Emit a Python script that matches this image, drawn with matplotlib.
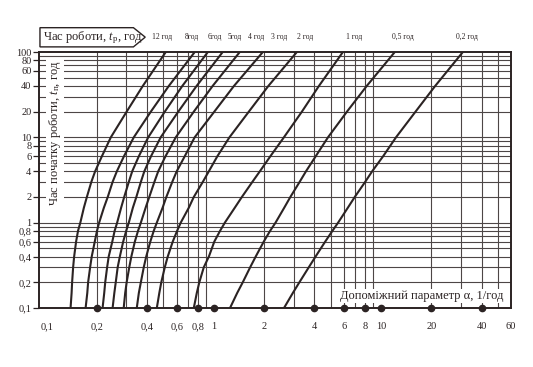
import matplotlib.pyplot as plt
from matplotlib.ticker import FixedLocator, NullLocator
from matplotlib.patches import Polygon
from matplotlib.transforms import blended_transform_factory

plt.rcParams['font.family'] = ['Liberation Serif', 'DejaVu Serif']
plt.rcParams['mathtext.fontset'] = 'custom'
plt.rcParams['mathtext.rm'] = 'Liberation Serif'
plt.rcParams['mathtext.it'] = 'Liberation Serif:italic'

# час початку роботи t_п (год) - спільна шкала для всіх кривих
t_start = [0.1, 0.15, 0.2, 0.3, 0.4, 0.6, 0.8, 1, 1.5, 2, 3, 4, 6, 10, 20, 40, 100]

# допоміжний параметр alpha (1/год) для кожного часу роботи t_p
alpha_12 = [0.139, 0.141, 0.142, 0.144, 0.146, 0.150, 0.154, 0.159, 0.167, 0.174,
            0.185, 0.195, 0.214, 0.242, 0.301, 0.376, 0.516]
alpha_8 = [0.171, 0.175, 0.177, 0.182, 0.186, 0.194, 0.200, 0.206, 0.220, 0.232,
           0.248, 0.263, 0.290, 0.332, 0.420, 0.538, 0.769]
alpha_6 = [0.216, 0.221, 0.224, 0.230, 0.235, 0.247, 0.255, 0.264, 0.279, 0.291,
           0.310, 0.325, 0.356, 0.405, 0.509, 0.648, 0.921]
alpha_5 = [0.248, 0.254, 0.259, 0.266, 0.274, 0.287, 0.299, 0.310, 0.328, 0.344,
           0.366, 0.384, 0.421, 0.481, 0.613, 0.789, 1.13]
alpha_4 = [0.289, 0.295, 0.301, 0.312, 0.321, 0.337, 0.352, 0.366, 0.391, 0.411,
           0.441, 0.465, 0.514, 0.592, 0.759, 0.984, 1.43]
alpha_3 = [0.346, 0.356, 0.366, 0.381, 0.394, 0.417, 0.437, 0.456, 0.494, 0.520,
           0.564, 0.600, 0.670, 0.768, 1.007, 1.32, 1.965]
alpha_2 = [0.456, 0.472, 0.485, 0.509, 0.530, 0.568, 0.603, 0.634, 0.709, 0.759,
           0.859, 0.934, 1.05, 1.24, 1.62, 2.12, 3.14]
alpha_1 = [0.759, 0.791, 0.819, 0.871, 0.934, 1.007, 1.089, 1.164, 1.336, 1.472,
           1.700, 1.886, 2.179, 2.626, 3.365, 4.254, 5.92]
alpha_05 = [1.25, 1.38, 1.49, 1.65, 1.78, 1.99, 2.17, 2.34, 2.64, 2.87,
            3.26, 3.56, 4.07, 4.82, 6.26, 8.22, 12.1]
alpha_02 = [2.63, 2.97, 3.25, 3.70, 4.06, 4.64, 5.12, 5.54, 6.34, 6.97,
            8.04, 8.86, 10.3, 12.3, 16.1, 21.1, 30.9]

curves = [alpha_12, alpha_8, alpha_6, alpha_5, alpha_4,
          alpha_3, alpha_2, alpha_1, alpha_05, alpha_02]
work_labels = ['12 год', '8год', '6год', '5год', '4 год',
               '3 год', '2 год', '1 год', '0,5 год', '0,2 год']
label_x = [0.488, 0.738, 1.014, 1.33, 1.78, 2.45, 3.51, 6.89, 13.5, 32.7]

x_ticks = [0.1, 0.2, 0.4, 0.6, 0.8, 1, 2, 4, 6, 8, 10, 20, 40, 60]
x_tick_labels = ['0,1', '0,2', '0,4', '0,6', '0,8', '1', '2', '4', '6', '8',
                 '10', '20', '40', '60']
y_ticks = [0.1, 0.2, 0.4, 0.6, 0.8, 1, 2, 4, 6, 8, 10, 20, 40, 60, 80, 100]
y_tick_labels = ['0,1', '0,2', '0,4', '0,6', '0,8', '1', '2', '4', '6', '8',
                 '10', '20', '40', '60', '80', '100']
x_grid = [m * 10.0 ** e for e in (-1, 0, 1) for m in range(2, 10) if m * 10.0 ** e < 60]
y_grid = [m * 10.0 ** e for e in (-1, 0, 1) for m in range(2, 10)] + [1, 10]

ink = '#2b2323'
grid_ink = '#4d4646'

fig = plt.figure(figsize=(5.33, 3.67), dpi=100)
ax = fig.add_axes([0.0732, 0.1608, 0.8856, 0.6975])
ax.set_xscale('log')
ax.set_yscale('log')
ax.set_xlim(0.09, 60)
ax.set_ylim(0.1, 100)

for g in x_grid:
    ax.axvline(g, color=grid_ink, linewidth=0.8, zorder=1)
for g in y_grid:
    ax.axhline(g, color=grid_ink, linewidth=0.8, zorder=1)

ax.xaxis.set_major_locator(FixedLocator(x_ticks))
ax.xaxis.set_minor_locator(NullLocator())
ax.yaxis.set_major_locator(FixedLocator(y_ticks))
ax.yaxis.set_minor_locator(NullLocator())
ax.set_xticklabels(x_tick_labels)
ax.set_yticklabels(y_tick_labels)
ax.tick_params(axis='x', length=0, labelsize=7.5, pad=10, colors=ink)
ax.tick_params(axis='y', length=4, width=0.9, labelsize=7.5, pad=1.5, colors=ink)
for s in ax.spines.values():
    s.set_color(ink)
    s.set_linewidth(1.4)

for a in curves:
    ax.plot(a, t_start, color=ink, linewidth=1.5, solid_capstyle='round',
            solid_joinstyle='round', zorder=3)

# точки на осі абсцис
ax.plot(x_ticks[1:-1], [0.1] * (len(x_ticks) - 2), 'o', color=ink,
        markersize=4.5, clip_on=False, zorder=5)

trans = blended_transform_factory(ax.transData, ax.transAxes)
for lx, lab in zip(label_x, work_labels):
    ax.text(lx, 1.058, lab, transform=trans, ha='center', va='center',
            fontsize=5.5, color=ink)

# заголовок-стрілка "Час роботи"
arrow = Polygon([(0.002, 1.02), (0.200, 1.02), (0.225, 1.058), (0.200, 1.095),
                 (0.002, 1.095)], closed=True, transform=ax.transAxes,
                facecolor='white', edgecolor=ink, linewidth=1.0, clip_on=False)
ax.add_patch(arrow)
ax.text(0.008, 1.058, r'Час роботи, $\mathit{t}_{\mathrm{р}}$, год',
        transform=ax.transAxes, ha='left', va='center', fontsize=9, color=ink)

ax.text(0.034, 0.685, r'Час початку роботи, $\mathit{t}_{\mathrm{п}}$, год',
        transform=ax.transAxes, rotation=90, ha='center', va='center',
        fontsize=9, color=ink, zorder=4,
        bbox=dict(facecolor='white', edgecolor='none', pad=0.5))

ax.text(0.985, 0.047, 'Допоміжний параметр α, 1/год', transform=ax.transAxes,
        ha='right', va='center', fontsize=9, color=ink, zorder=4,
        bbox=dict(facecolor='white', edgecolor='none', pad=0.8))

fig.savefig('out.png', dpi=100)
